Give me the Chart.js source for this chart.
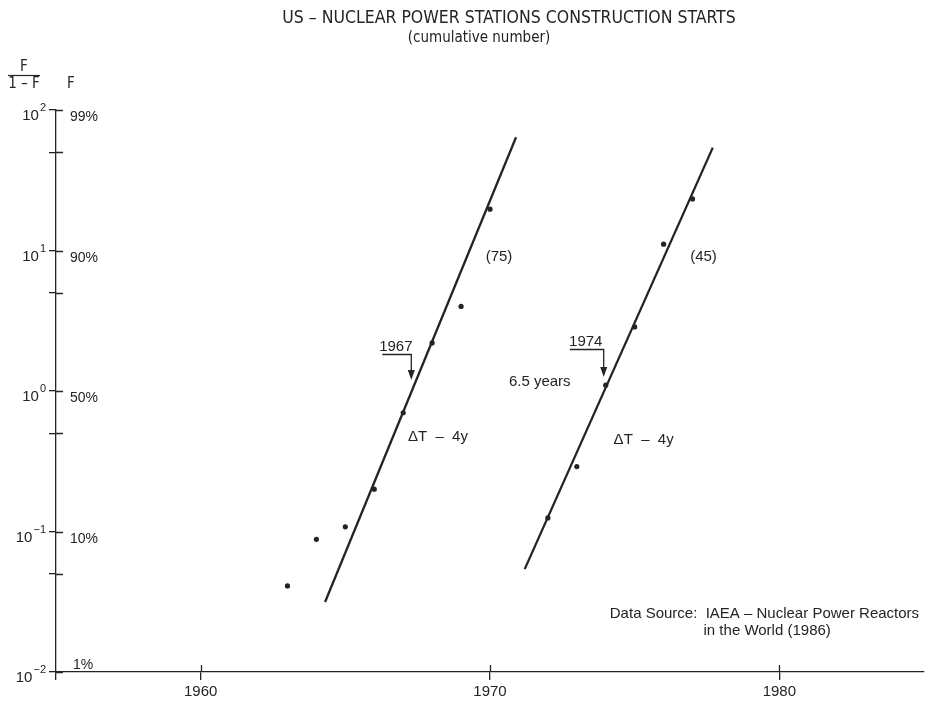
<!DOCTYPE html>
<html>
<head>
<meta charset="utf-8">
<script src="https://cdn.jsdelivr.net/npm/chart.js@4.4.1/dist/chart.umd.min.js"></script>
<style>
  html, body { margin: 0; padding: 0; background: #fff; }
  #wrap { width: 928px; height: 706px; }
</style>
</head>
<body>
<div id="wrap"><canvas id="c" width="928" height="706"></canvas></div>
<script>
// Fisher–Pry substitution plot: F/(1-F) of cumulative construction starts, log axis, by year

// First wave of construction starts
const years1 = [1963, 1964, 1965, 1966, 1967, 1968, 1969, 1970];
const ratio1 = [0.041, 0.088, 0.108, 0.20, 0.70, 2.2, 4.0, 19.7];

// Second wave of construction starts
const years2 = [1972, 1973, 1974, 1975, 1976, 1977];
const ratio2 = [0.125, 0.29, 1.10, 2.86, 11.1, 23.3];

// Fitted logistic trends (end points of each straight line)
const fitYears1 = [1964.3, 1970.9];
const fitRatio1 = [0.0315, 64];
const fitYears2 = [1971.2, 1977.7];
const fitRatio2 = [0.054, 54];

// Axis ticks
const xTickYears = [1960, 1970, 1980];
const yTickRatios = [0.01, 0.05, 0.1, 0.5, 1, 5, 10, 50, 100];
const decadeExponents = [2, 1, 0, -1, -2];
const percentLabels = ['99%', '90%', '50%', '10%', '1%'];

const INK = '#242424';
const SANS = "'Liberation Sans', Arial, sans-serif";
const NARROW = "'Liberation Sans Narrow', 'DejaVu Sans Condensed', sans-serif";

const toPoints = (xs, ys) => xs.map((x, i) => ({ x: x, y: ys[i] }));

// Free text placed in data coordinates (year, ratio)
const notes = [
  { text: '(75)', year: 1970.31, ratio: 9.0 },
  { text: '(45)', year: 1977.38, ratio: 9.0 },
  { text: '6.5 years', year: 1971.72, ratio: 1.16 },
  { text: 'ΔT  –  4y', year: 1968.2, ratio: 0.47 },
  { text: 'ΔT  –  4y', year: 1975.31, ratio: 0.45 }
];

// Year call-outs: underlined label with an arrow down onto the trend line
const callouts = [
  { text: '1967', from: 1966.28, to: 1967.28, lineRatio: 1.83, tipRatio: 1.2 },
  { text: '1974', from: 1972.76, to: 1973.93, lineRatio: 1.99, tipRatio: 1.26 }
];

const sourceLines = [
  { text: 'Data Source:  IAEA – Nuclear Power Reactors', year: 1974.14, ratio: 0.026 },
  { text: 'in the World (1986)', year: 1977.38, ratio: 0.0196 }
];

const decorations = {
  id: 'decorations',
  afterDraw(chart) {
    const ctx = chart.ctx;
    const xs = chart.scales.x, ys = chart.scales.y;
    const area = chart.chartArea;
    ctx.save();
    ctx.fillStyle = INK;
    ctx.strokeStyle = INK;

    // inner half of the cross-shaped tick marks
    ctx.lineWidth = 1.3;
    ctx.beginPath();
    xTickYears.forEach(v => {
      const px = Math.round(xs.getPixelForValue(v)) + 0.5;
      ctx.moveTo(px, area.bottom);
      ctx.lineTo(px, area.bottom - 7);
    });
    yTickRatios.forEach(v => {
      const py = Math.round(ys.getPixelForValue(v)) + 0.5;
      ctx.moveTo(area.left, py);
      ctx.lineTo(area.left + 7, py);
    });
    ctx.stroke();

    // title
    ctx.textAlign = 'center';
    ctx.textBaseline = 'middle';
    ctx.font = `17.5px ${NARROW}`;
    ctx.fillText('US – NUCLEAR POWER STATIONS CONSTRUCTION STARTS', 509, 18);
    ctx.font = `15px ${NARROW}`;
    ctx.fillText('(cumulative number)', 479, 38);

    // axis header F/(1-F) and F
    ctx.font = `15px ${NARROW}`;
    ctx.fillText('F', 24, 67);
    ctx.fillText('1 – F', 24, 84);
    ctx.fillText('F', 71, 84);
    ctx.lineWidth = 1.2;
    ctx.beginPath();
    ctx.moveTo(8, 75.5);
    ctx.lineTo(40, 75.5);
    ctx.stroke();

    // decade labels 10^n on the left, F in percent on the right
    ctx.textAlign = 'left';
    ctx.textBaseline = 'alphabetic';
    decadeExponents.forEach((e, i) => {
      const py = ys.getPixelForValue(Math.pow(10, e));
      const sup = e < 0 ? '−' + Math.abs(e) : String(e);
      ctx.font = `11px ${SANS}`;
      const sw = ctx.measureText(sup).width;
      ctx.font = `15px ${SANS}`;
      const bw = ctx.measureText('10').width;
      const right = 46;
      ctx.fillText('10', right - sw - bw - 1, py + 10);
      ctx.font = `11px ${SANS}`;
      ctx.fillText(sup, right - sw, py + 1);
      ctx.font = `14px ${SANS}`;
      if (e === -2) ctx.fillText(percentLabels[i], 73, py - 3);
      else ctx.fillText(percentLabels[i], 70, py + 11);
    });

    // free notes
    ctx.font = `15px ${SANS}`;
    ctx.textAlign = 'center';
    ctx.textBaseline = 'middle';
    notes.forEach(n => {
      ctx.fillText(n.text, xs.getPixelForValue(n.year), ys.getPixelForValue(n.ratio));
    });

    // year call-outs with arrows
    callouts.forEach(c => {
      const x0 = xs.getPixelForValue(c.from);
      const x1 = xs.getPixelForValue(c.to);
      const yl = Math.round(ys.getPixelForValue(c.lineRatio)) + 0.5;
      const yt = ys.getPixelForValue(c.tipRatio);
      ctx.textBaseline = 'alphabetic';
      ctx.fillText(c.text, (x0 + x1) / 2 - 1, yl - 4);
      ctx.lineWidth = 1.3;
      ctx.beginPath();
      ctx.moveTo(x0, yl);
      ctx.lineTo(x1, yl);
      ctx.lineTo(x1, yt - 8);
      ctx.stroke();
      ctx.beginPath();
      ctx.moveTo(x1 - 3.5, yt - 10);
      ctx.lineTo(x1 + 3.5, yt - 10);
      ctx.lineTo(x1, yt);
      ctx.closePath();
      ctx.fill();
    });

    // data source
    ctx.textAlign = 'left';
    ctx.textBaseline = 'middle';
    ctx.font = `15px ${SANS}`;
    sourceLines.forEach(s => {
      ctx.fillText(s.text, xs.getPixelForValue(s.year), ys.getPixelForValue(s.ratio));
    });

    ctx.restore();
  }
};

new Chart(document.getElementById('c'), {
  type: 'scatter',
  data: {
    datasets: [
      {
        label: 'Construction starts 1963–1970',
        data: toPoints(years1, ratio1),
        showLine: false,
        pointRadius: 2.6,
        pointBackgroundColor: INK,
        pointBorderWidth: 0
      },
      {
        label: 'Construction starts 1972–1977',
        data: toPoints(years2, ratio2),
        showLine: false,
        pointRadius: 2.6,
        pointBackgroundColor: INK,
        pointBorderWidth: 0
      },
      {
        label: 'Logistic fit, first wave',
        data: toPoints(fitYears1, fitRatio1),
        showLine: true,
        borderColor: INK,
        borderWidth: 2.3,
        pointRadius: 0
      },
      {
        label: 'Logistic fit, second wave',
        data: toPoints(fitYears2, fitRatio2),
        showLine: true,
        borderColor: INK,
        borderWidth: 2.3,
        pointRadius: 0
      }
    ]
  },
  options: {
    responsive: false,
    animation: false,
    devicePixelRatio: 1,
    layout: { padding: { left: 56, top: 110, right: 2, bottom: 2 } },
    plugins: {
      legend: { display: false },
      title: { display: false },
      tooltip: { enabled: false }
    },
    scales: {
      x: {
        type: 'linear',
        min: 1955,
        max: 1985,
        afterBuildTicks: s => { s.ticks = [1955].concat(xTickYears).map(v => ({ value: v })); },
        ticks: {
          color: INK,
          padding: 3,
          autoSkip: false,
          maxRotation: 0,
          font: { family: SANS, size: 15 },
          callback: v => (xTickYears.includes(v) ? String(v) : '')
        },
        grid: { drawOnChartArea: false, drawTicks: true, tickLength: 8, color: INK, lineWidth: 1.3 },
        border: { display: true, color: INK, width: 1.3 }
      },
      y: {
        type: 'logarithmic',
        min: 0.01,
        max: 100,
        afterBuildTicks: s => { s.ticks = yTickRatios.map(v => ({ value: v })); },
        afterFit: s => { s.width = 0; },
        ticks: { callback: () => '' },
        grid: { drawOnChartArea: false, drawTicks: true, tickLength: 7, color: INK, lineWidth: 1.3 },
        border: { display: true, color: INK, width: 1.3 }
      }
    }
  },
  plugins: [decorations]
});
</script>
</body>
</html>
